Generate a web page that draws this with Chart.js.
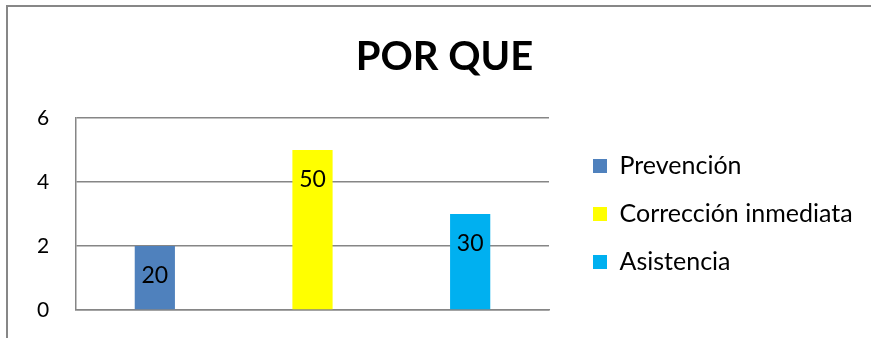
<!DOCTYPE html>
<html>
<head>
<meta charset="utf-8">
<script src="https://cdn.jsdelivr.net/npm/chart.js@4/dist/chart.umd.min.js"></script>
<style>
  html, body { margin: 0; padding: 0; background: #fff; overflow: hidden; }
  #wrap { position: relative; width: 871px; height: 338px; }
  #frame { position: absolute; left: 6px; top: 5px; width: 900px; height: 400px; border: 2px solid #878787; }
  canvas { position: absolute; left: 0; top: 0; }
</style>
</head>
<body>
<div id="wrap">
  <div id="frame"></div>
  <canvas id="c" width="871" height="338"></canvas>
</div>
<script>
const categories = ["Prevención", "Corrección inmediata", "Asistencia"];
const values = [2, 5, 3];
const dataLabels = ["20", "50", "30"];
const colors = ["#4F81BD", "#FFFF00", "#00B0F0"];
const yTicks = [0, 2, 4, 6];
const titleText = "POR QUE";

const FONT = "Lato, 'Open Sans', sans-serif";

const barLabelPlugin = {
  id: 'barLabels',
  afterDatasetsDraw(chart) {
    const ctx = chart.ctx;
    const meta = chart.getDatasetMeta(0);
    ctx.save();
    ctx.font = "23px " + FONT;
    ctx.fillStyle = "#000";
    ctx.textAlign = "center";
    ctx.textBaseline = "middle";
    meta.data.forEach((bar, i) => {
      ctx.fillText(dataLabels[i], bar.x, bar.y + 30);
    });
    ctx.restore();
  }
};

new Chart(document.getElementById('c'), {
  type: 'bar',
  data: {
    labels: categories,
    datasets: [{
      data: values,
      backgroundColor: colors,
      borderWidth: 0,
      categoryPercentage: 1,
      barPercentage: 0.255
    }]
  },
  options: {
    responsive: false,
    animation: false,
    events: [],
    layout: { padding: { left: 37, right: 19, top: 10, bottom: 28 } },
    plugins: {
      title: {
        display: true,
        text: titleText,
        color: "#000",
        font: { family: FONT, size: 40, weight: 'bold' },
        padding: { top: 23, bottom: 37 }
      },
      legend: {
        position: 'right',
        align: 'center',
        fullSize: false,
        maxWidth: 282,
        labels: {
          color: "#000",
          font: { family: FONT, size: 25 },
          boxWidth: 14,
          boxHeight: 14,
          padding: 23,
          generateLabels(chart) {
            return categories.map((c, i) => ({
              text: c,
              fillStyle: colors[i],
              strokeStyle: colors[i],
              lineWidth: 0,
              hidden: false,
              index: i
            }));
          }
        }
      },
      tooltip: { enabled: false }
    },
    scales: {
      x: {
        grid: { display: false },
        ticks: { display: false },
        border: { display: true, color: "#868686", width: 1.5 },
        afterFit(scale) { scale.height = 0; }
      },
      y: {
        min: yTicks[0],
        max: yTicks[yTicks.length - 1],
        afterBuildTicks(axis) { axis.ticks = yTicks.map(v => ({ value: v })); },
        afterFit(scale) { scale.width = 39; },
        grid: { color: "#868686", lineWidth: 1.5, drawTicks: false },
        border: { display: true, color: "#868686", width: 1.5 },
        ticks: {
          color: "#000",
          font: { family: FONT, size: 21 },
          padding: 0,
          crossAlign: 'far'
        }
      },
      gap: {
        type: 'linear',
        position: 'right',
        display: true,
        grid: { display: false, drawOnChartArea: false },
        border: { display: false },
        ticks: { display: false },
        afterFit(scale) { scale.width = 21; }
      }
    }
  },
  plugins: [barLabelPlugin]
});
</script>
</body>
</html>
